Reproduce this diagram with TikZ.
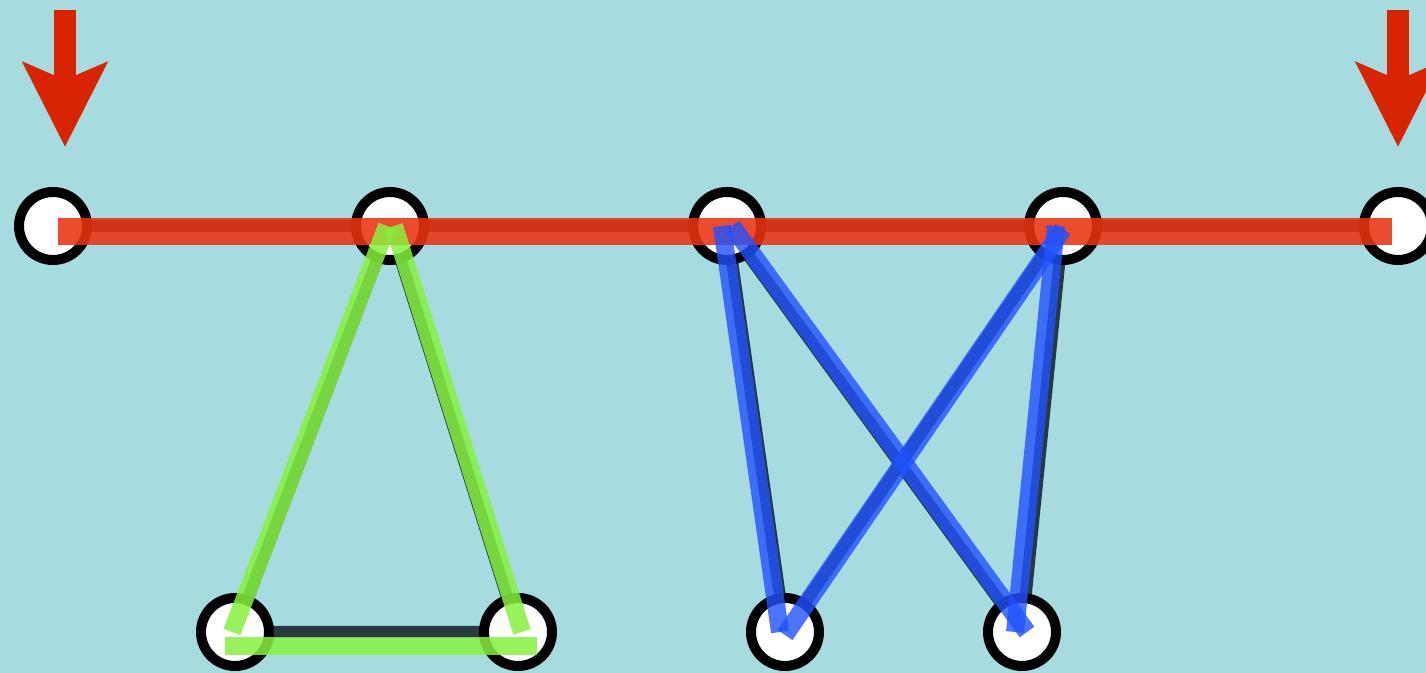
\documentclass[tikz,border=0pt]{standalone}
\usepackage{xcolor}
\usetikzlibrary{arrows.meta}
\definecolor{water}{HTML}{A6DCE0}
\definecolor{redline}{HTML}{EA3312}
\definecolor{pushred}{HTML}{D82400}
\definecolor{greenline}{HTML}{86F23E}
\definecolor{blueline}{HTML}{2052FF}
\definecolor{darkedge}{HTML}{263A40}

\begin{document}
\begin{tikzpicture}[
  ring/.style={circle,draw=black,line width=0.2cm,fill=white,minimum size=1.36cm,inner sep=0pt},
  under/.style={darkedge,line width=0.24cm},
  redbar/.style={redline,line width=0.54cm,opacity=0.88},
  greenbar/.style={greenline,line width=0.36cm,opacity=0.85},
  bluebar/.style={blueline,line width=0.36cm,opacity=0.8},
  push/.style={pushred,line width=0.44cm,-{Stealth[width=1.66cm,length=1.68cm,inset=0.34cm]}}
]
\useasboundingbox (0,0) rectangle (28.52,13.46);
\fill[water] (0,0) rectangle (28.52,13.46);

\coordinate (t1) at (1.06,8.94);
\coordinate (t2) at (7.8,8.94);
\coordinate (t3) at (14.54,8.94);
\coordinate (t4) at (21.26,8.94);
\coordinate (t5) at (27.96,8.94);
\coordinate (b1) at (4.7,0.82);
\coordinate (b2) at (10.36,0.82);
\coordinate (b3) at (15.7,0.82);
\coordinate (b4) at (20.44,0.82);

\draw[under] (t1)--(t5);
\draw[under] (t2)--(b1)--(b2)--cycle;
\draw[under] (t3)--(b3);
\draw[under] (t3)--(b4);
\draw[under] (t4)--(b3);
\draw[under] (t4)--(b4);

\foreach \p in {t1,t2,t3,t4,t5,b1,b2,b3,b4}
  \node[ring] (n\p) at (\p) {};

\draw[redbar,transform canvas={yshift=-0.12cm},shorten <=0.1cm,shorten >=0.12cm] (nt1.center)--(nt5.center);
\draw[greenbar,transform canvas={xshift=-0.06cm}] (nt2.center)--(nb1.center);
\draw[greenbar,transform canvas={xshift=0.08cm}] (nt2.center)--(nb2.center);
\draw[greenbar,transform canvas={yshift=-0.28cm},shorten <=-0.2cm,shorten >=-0.38cm] (nb1.center)--(nb2.center);
\draw[bluebar,transform canvas={xshift=-0.1cm}] (nt3.center)--(nb3.center);
\draw[bluebar,transform canvas={xshift=0.1cm}] (nt3.center)--(nb4.center);
\draw[bluebar,transform canvas={yshift=-0.06cm}] (nt4.center)--(nb3.center);
\draw[bluebar,transform canvas={xshift=-0.14cm}] (nt4.center)--(nb4.center);

\coordinate (inL) at (1.3,13.26);
\coordinate (inLtip) at (1.3,10.52);
\coordinate (inR) at (27.96,13.26);
\coordinate (inRtip) at (27.96,10.52);
\draw[push] (inL)--(inLtip);
\draw[push] (inR)--(inRtip);
\end{tikzpicture}
\end{document}
